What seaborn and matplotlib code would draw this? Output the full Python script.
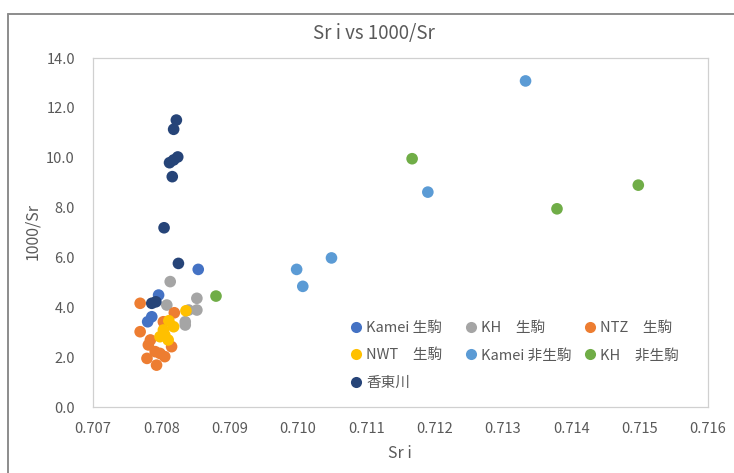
import matplotlib
matplotlib.use("Agg")
import matplotlib.pyplot as plt
from matplotlib.lines import Line2D
import numpy as np
import pandas as pd
import seaborn as sns

# ---- data: Sr isotope ratio (Sr i) and 1000/Sr for each sample group ----
kamei_ikoma_x = [0.70854, 0.70796, 0.70786, 0.70780]
kamei_ikoma_y = [5.52, 4.49, 3.62, 3.42]

kh_ikoma_x = [0.70813, 0.70808, 0.70852, 0.70852, 0.70840, 0.70835, 0.70835]
kh_ikoma_y = [5.03, 4.09, 4.36, 3.89, 3.89, 3.42, 3.29]

ntz_ikoma_x = [0.70769, 0.70819, 0.70803, 0.70769, 0.70784, 0.70781,
               0.70815, 0.70791, 0.70798, 0.70805, 0.70779, 0.70793]
ntz_ikoma_y = [4.16, 3.78, 3.42, 3.02, 2.69, 2.49,
               2.42, 2.22, 2.15, 2.02, 1.95, 1.68]

nwt_ikoma_x = [0.70836, 0.70811, 0.70818, 0.70805, 0.70798, 0.70810, 0.70803]
nwt_ikoma_y = [3.86, 3.46, 3.22, 2.89, 2.82, 2.69, 3.09]

kamei_other_x = [0.71333, 0.71190, 0.71049, 0.70998, 0.71007]
kamei_other_y = [13.08, 8.62, 5.98, 5.52, 4.84]

kh_other_x = [0.71167, 0.71379, 0.71498, 0.70880]
kh_other_y = [9.96, 7.95, 8.90, 4.45]

kotogawa_x = [0.70822, 0.70818, 0.70824, 0.70818, 0.70812,
              0.70816, 0.70804, 0.70825, 0.70786, 0.70792]
kotogawa_y = [11.51, 11.14, 10.03, 9.91, 9.80,
              9.24, 7.19, 5.76, 4.16, 4.22]

series_names = ["Kamei 生駒", "KH\u3000生駒", "NTZ\u3000生駒", "NWT\u3000生駒",
                "Kamei 非生駒", "KH\u3000非生駒", "香東川"]
series_x = [kamei_ikoma_x, kh_ikoma_x, ntz_ikoma_x, nwt_ikoma_x,
            kamei_other_x, kh_other_x, kotogawa_x]
series_y = [kamei_ikoma_y, kh_ikoma_y, ntz_ikoma_y, nwt_ikoma_y,
            kamei_other_y, kh_other_y, kotogawa_y]
series_colors = ["#4472C4", "#A5A5A5", "#ED7D31", "#FFC000",
                 "#5B9BD5", "#70AD47", "#264478"]

x_ticks = [0.707, 0.708, 0.709, 0.710, 0.711, 0.712, 0.713, 0.714, 0.715, 0.716]
y_ticks = [0.0, 2.0, 4.0, 6.0, 8.0, 10.0, 12.0, 14.0]

# ---- long-form table, rows in series order so later groups draw on top ----
df = pd.concat(
    [pd.DataFrame({"Sr i": xs, "1000/Sr": ys, "group": name})
     for name, xs, ys in zip(series_names, series_x, series_y)],
    ignore_index=True,
)

sns.set_theme(style="white")
plt.rcParams["font.family"] = ["Noto Sans CJK JP", "DejaVu Sans"]

W, H = 734, 473
fig = plt.figure(figsize=(W / 100, H / 100), dpi=100)
fig.patch.set_facecolor("white")

left, right, top, bottom = 93, 708, 58, 407
ax = fig.add_axes([left / W, 1 - bottom / H, (right - left) / W, (bottom - top) / H])

palette = dict(zip(series_names, series_colors))
sns.scatterplot(data=df, x="Sr i", y="1000/Sr", hue="group", hue_order=series_names,
                palette=palette, s=70, linewidth=0, legend=False, ax=ax, zorder=3)

ax.set_xlim(x_ticks[0], x_ticks[-1])
ax.set_ylim(y_ticks[0], y_ticks[-1])
ax.set_xticks(x_ticks)
ax.set_yticks(y_ticks)
ax.set_xticklabels([f"{v:.3f}" for v in x_ticks])
ax.set_yticklabels([f"{v:.1f}" for v in y_ticks])
text_grey = "#595959"
ax.tick_params(axis="both", length=0, labelsize=10.5, colors=text_grey)
ax.tick_params(axis="x", pad=11)
ax.tick_params(axis="y", pad=13)
ax.set_xlabel("")
ax.set_ylabel("")
for sp in ax.spines.values():
    sp.set_color("#D0D0D0")
    sp.set_linewidth(0.9)
ax.grid(False)

# titles and axis names
fig.text(374 / W, 1 - 34 / H, "Sr i vs 1000/Sr", ha="center", va="center",
         fontsize=13.5, color=text_grey)
fig.text(400 / W, 1 - 453 / H, "Sr i", ha="center", va="center",
         fontsize=11.5, color=text_grey)
fig.text(33 / W, 1 - 232 / H, "1000/Sr", ha="center", va="center",
         fontsize=11.5, color=text_grey, rotation=90)

# legend: three columns placed inside the plot area
columns = [[0, 3, 6], [1, 4], [2, 5]]
col_x = [350, 465, 584]
row_top = 321
for cx, idxs in zip(col_x, columns):
    handles = [Line2D([], [], marker="o", linestyle="", markersize=8,
                      markerfacecolor=series_colors[i], markeredgewidth=0)
               for i in idxs]
    labels = [series_names[i] for i in idxs]
    leg = fig.legend(handles, labels, loc="upper left",
                     bbox_to_anchor=(cx / W, 1 - row_top / H),
                     frameon=False, borderpad=0, borderaxespad=0,
                     handlelength=0.8, handletextpad=0.3, labelspacing=0.92,
                     prop={"size": 10.5}, labelcolor=text_grey)

# outer chart-area frame
fig.add_artist(Line2D([8 / W, 8 / W], [0, 1 - 14 / H], transform=fig.transFigure,
                      color="#8C8C8C", linewidth=1.4))
fig.add_artist(Line2D([8 / W, 1], [1 - 14 / H, 1 - 14 / H], transform=fig.transFigure,
                      color="#8C8C8C", linewidth=1.4))

fig.savefig("out.png", dpi=100)
